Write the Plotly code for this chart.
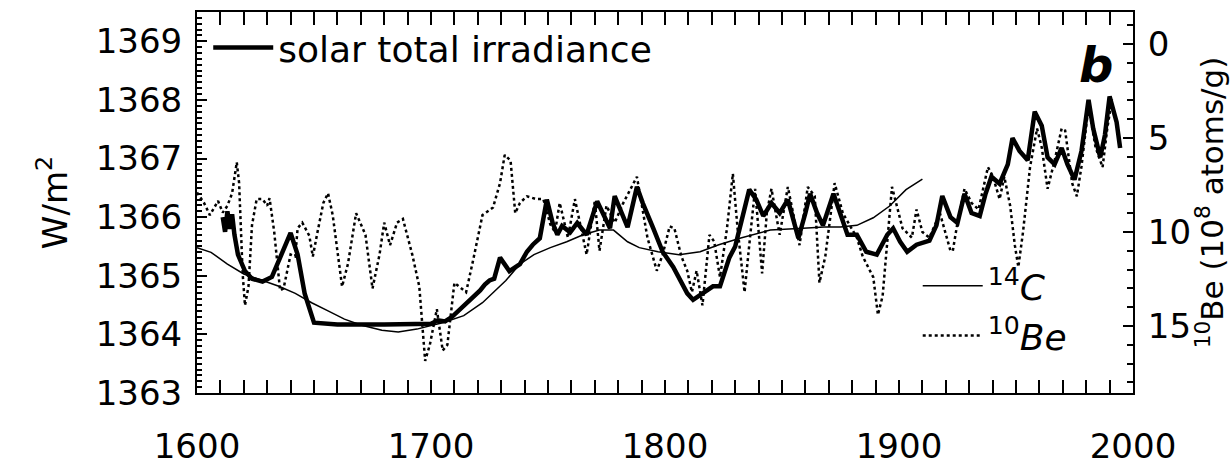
import plotly.graph_objects as go

# ---- data ----
solar_years = [1611, 1612, 1613, 1614, 1615, 1616, 1617.5, 1620.5, 1623.5, 1628, 1632, 1636, 1640, 1643,
               1646, 1650, 1660, 1680, 1700, 1703, 1706, 1709, 1713, 1716, 1718, 1721, 1723, 1725, 1727,
               1729.5, 1733.5, 1738, 1741, 1743.5, 1746.5, 1749.5, 1752, 1754, 1756, 1759.5, 1762.5, 1766.5,
               1771, 1773.5, 1776.5, 1778.5, 1781.5, 1784, 1788, 1790.5, 1795, 1799, 1803.5, 1807, 1809.5,
               1812, 1816, 1820.5, 1823.5, 1827.5, 1830, 1833, 1836, 1839, 1842, 1845.5, 1849, 1852.5, 1857,
               1860, 1862, 1865, 1867.5, 1872, 1875, 1878, 1882, 1886, 1890.5, 1895, 1897.5, 1900.5, 1903.5,
               1907.5, 1913, 1916, 1918.5, 1922, 1925, 1928, 1931, 1934.5, 1937, 1939.5, 1943, 1946.5,
               1948.5, 1951.5, 1955, 1958, 1961, 1963.5, 1966.5, 1969.5, 1972, 1975, 1978, 1981, 1983,
               1986, 1988, 1990, 1993, 1994.5]
solar_wm2 = [1366.0, 1365.75, 1366.1, 1365.8, 1366.05, 1365.7, 1365.36, 1365.08, 1364.95, 1364.9, 1364.98,
             1365.36, 1365.73, 1365.36, 1364.7, 1364.2, 1364.17, 1364.17, 1364.18, 1364.24, 1364.22, 1364.3,
             1364.45, 1364.55, 1364.65, 1364.75, 1364.85, 1364.92, 1364.95, 1365.31, 1365.08, 1365.2,
             1365.41, 1365.53, 1365.64, 1366.3, 1365.9, 1365.7, 1365.85, 1365.74, 1365.9, 1365.7, 1366.27,
             1366.07, 1365.81, 1366.36, 1366.07, 1365.83, 1366.52, 1366.24, 1365.81, 1365.41, 1365.15,
             1364.87, 1364.7, 1364.59, 1364.7, 1364.82, 1364.82, 1365.31, 1365.5, 1366.0, 1366.47, 1366.3,
             1366.02, 1366.24, 1366.07, 1366.3, 1365.64, 1366.07, 1366.4, 1366.07, 1365.86, 1366.4, 1366.07,
             1365.7, 1365.7, 1365.41, 1365.36, 1365.7, 1365.81, 1365.58, 1365.41, 1365.53, 1365.6, 1365.86,
             1366.36, 1366.0, 1365.9, 1366.4, 1366.07, 1366.02, 1366.4, 1366.69, 1366.57, 1366.9, 1367.35,
             1367.13, 1366.97, 1367.8, 1367.56, 1367.02, 1366.9, 1367.18, 1366.9, 1366.64, 1367.13, 1368.0,
             1367.51, 1367.02, 1367.4, 1368.06, 1367.62, 1367.18]

c14_years = [1600, 1606, 1613, 1620, 1628, 1635, 1642, 1649, 1656, 1663, 1670, 1679, 1686, 1694, 1700,
             1705, 1714, 1722, 1732, 1738, 1744, 1751, 1758, 1765, 1772, 1778, 1784, 1789, 1797, 1806,
             1815, 1823, 1832, 1845, 1859, 1868, 1875, 1882, 1889, 1896, 1903, 1910]
c14_wm2 = [1365.48, 1365.4, 1365.2, 1365.03, 1364.92, 1364.82, 1364.7, 1364.54, 1364.4, 1364.26, 1364.16,
           1364.07, 1364.04, 1364.09, 1364.15, 1364.2, 1364.32, 1364.54, 1364.92, 1365.2, 1365.36, 1365.48,
           1365.58, 1365.7, 1365.78, 1365.78, 1365.58, 1365.48, 1365.41, 1365.36, 1365.41, 1365.53, 1365.64,
           1365.78, 1365.81, 1365.83, 1365.83, 1365.86, 1365.99, 1366.19, 1366.47, 1366.65]

be_years = [1600, 1603, 1605.5, 1609, 1611, 1613, 1615, 1617, 1618, 1619.5, 1620.5, 1622, 1623.5, 1625.5,
            1628, 1630, 1631, 1633, 1635.5, 1637, 1640, 1642, 1643, 1645, 1648, 1649.5, 1651.5, 1654, 1656,
            1658, 1662, 1664.5, 1668, 1672, 1675, 1678, 1680, 1682.5, 1685.5, 1688, 1692, 1695, 1697.5,
            1699.5, 1702.5, 1705, 1707, 1710, 1712, 1715, 1718, 1722, 1726.5, 1729.5, 1731.5, 1734, 1736,
            1738, 1741, 1745, 1748, 1751, 1753, 1755, 1758.5, 1761.5, 1766.5, 1770, 1772, 1775, 1778.5,
            1782, 1788, 1790.5, 1792.5, 1796.5, 1799, 1802, 1804, 1807, 1809.5, 1811.5, 1813.5, 1816, 1819,
            1821, 1823.5, 1826.5, 1829, 1831, 1834, 1836, 1838.5, 1841.5, 1843.5, 1845.5, 1849, 1852.5,
            1857.5, 1861, 1864, 1866, 1868.5, 1872.5, 1876, 1882, 1884.5, 1889, 1891, 1893, 1895, 1897,
            1901.5, 1905.5, 1907.5, 1910, 1913, 1917.5, 1922, 1923, 1925, 1928, 1931, 1934, 1938, 1940,
            1943, 1945, 1947.5, 1949.5, 1951, 1953, 1956, 1959, 1961, 1963.5, 1966.5, 1969.5, 1971, 1974,
            1976, 1978, 1981, 1984, 1987, 1989, 1991]
be_conc = [7.9, 8.45, 9.1, 8.35, 8.97, 8.6, 7.94, 6.29, 7.4, 12.2, 13.9, 12.9, 9.64, 8.25, 8.25, 8.6, 8.2,
           10.0, 13.1, 13.0, 11.2, 11.3, 9.8, 9.5, 10.2, 11.3, 10.0, 8.45, 7.94, 9.1, 12.9, 11.7, 9.0,
           10.15, 13.0, 11.2, 9.5, 10.7, 9.5, 9.3, 11.2, 12.9, 16.85, 16.0, 14.1, 16.3, 16.0, 12.7, 12.9,
           13.2, 11.5, 9.1, 8.7, 7.4, 5.9, 6.2, 9.0, 8.45, 8.1, 8.25, 8.25, 9.6, 10.0, 8.45, 10.3, 8.25,
           11.2, 8.35, 11.0, 8.6, 9.5, 8.5, 7.06, 9.0, 10.3, 12.06, 11.2, 9.7, 9.8, 11.3, 12.06, 13.2,
           12.06, 13.9, 10.15, 10.5, 12.4, 9.8, 6.9, 9.8, 13.2, 10.7, 7.7, 12.2, 9.0, 7.7, 10.15, 7.6,
           10.7, 7.6, 8.1, 12.7, 11.3, 7.4, 9.0, 10.3, 11.3, 12.4, 14.4, 13.4, 10.3, 7.6, 9.8, 10.3, 8.8,
           10.0, 10.3, 9.0, 11.0, 11.0, 9.5, 7.7, 8.45, 8.8, 6.55, 7.0, 8.25, 7.06, 8.6, 10.7, 11.86,
           10.0, 6.55, 4.5, 5.5, 7.7, 6.2, 4.5, 4.6, 7.4, 8.1, 6.5, 3.3, 5.5, 6.55, 4.5, 2.94]

x_ticks = [1600, 1700, 1800, 1900, 2000]
y_ticks = [1363, 1364, 1365, 1366, 1367, 1368, 1369]
be_ticks = [0, 5, 10, 15]

FONT = "DejaVu Sans"

fig = go.Figure()
fig.add_trace(go.Scatter(x=solar_years, y=solar_wm2, mode="lines", name="solar total irradiance",
                         line=dict(color="black", width=4.5), legend="legend"))
fig.add_trace(go.Scatter(x=c14_years, y=c14_wm2, mode="lines", name="<sup>14</sup><i>C</i>",
                         line=dict(color="black", width=1.5), legend="legend2"))
fig.add_trace(go.Scatter(x=be_years, y=be_conc, mode="lines", name="<sup>10</sup><i>Be</i>", yaxis="y2",
                         line=dict(color="black", width=2.5, dash="dot"), legend="legend2"))

axis_common = dict(showgrid=False, zeroline=False, showline=True, linecolor="black", linewidth=2,
                   ticks="inside", tickcolor="black", tickwidth=2,
                   tickfont=dict(family=FONT, size=34, color="black"))

fig.update_layout(
    width=1230, height=476,
    margin=dict(l=197, r=97, t=10, b=73),
    paper_bgcolor="white", plot_bgcolor="white",
    font=dict(family=FONT, color="black"),
    xaxis=dict(range=[1600, 2000], tickvals=x_ticks, ticklen=13, mirror="allticks",
               minor=dict(dtick=10, ticks="inside", ticklen=7, tickcolor="black", tickwidth=2),
               ticklabelstandoff=22, **axis_common),
    yaxis=dict(range=[1363, 1369.5], tickvals=y_ticks, ticklen=10,
               minor=dict(dtick=0.1, ticks="inside", ticklen=5, tickcolor="black", tickwidth=1.5),
               title=dict(text="W/m<sup>2</sup>", font=dict(family=FONT, size=34), standoff=18),
               ticklabelstandoff=6, **axis_common),
    yaxis2=dict(range=[18.56, -1.7], overlaying="y", side="right", tickvals=be_ticks, ticklen=10,
                minor=dict(dtick=1, ticks="inside", ticklen=6, tickcolor="black", tickwidth=2),
                title=dict(text="<sup>10</sup>Be (10<sup>8</sup> atoms/g)", font=dict(family=FONT, size=31),
                           standoff=6),
                ticklabelstandoff=6, **axis_common),
    legend=dict(x=0.012, y=0.985, xanchor="left", yanchor="top", bgcolor="rgba(0,0,0,0)",
                font=dict(family=FONT, size=36), itemwidth=60),
    legend2=dict(x=0.77, y=0.36, xanchor="left", yanchor="top", bgcolor="rgba(0,0,0,0)",
                 font=dict(family=FONT, size=36), itemwidth=60, tracegroupgap=0),
    showlegend=True,
    annotations=[dict(text="<b><i>b</i></b>", x=0.96, y=0.86, xref="paper", yref="paper",
                      xanchor="center", yanchor="middle",
                      showarrow=False, font=dict(family=FONT, size=48, color="black"))],
)

fig.write_html("out.html")
